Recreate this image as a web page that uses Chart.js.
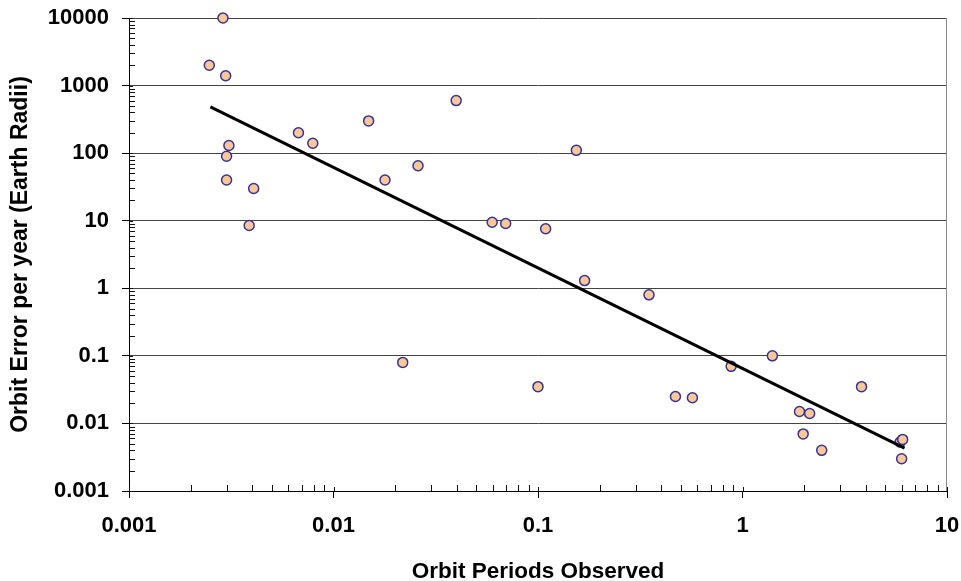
<!DOCTYPE html>
<html>
<head>
<meta charset="utf-8">
<title>Orbit error vs periods observed</title>
<script src="https://cdn.jsdelivr.net/npm/chart.js@4/dist/chart.umd.min.js"></script>
<style>
  html, body { margin: 0; padding: 0; background: #fff; }
  canvas { display: block; }
</style>
</head>
<body>
<canvas id="chart" width="961" height="581"></canvas>
<script>
// observed points
const periods = [0.00288, 0.00247, 0.00297, 0.00308, 0.0030, 0.0030, 0.00407, 0.00387,
  0.00674, 0.00792, 0.01485, 0.01786, 0.0259, 0.0398, 0.154, 0.0597, 0.0695, 0.109,
  0.169, 0.349, 0.0218, 0.100, 1.40, 0.88, 0.47, 0.569, 3.82, 1.90, 2.13, 1.98, 2.44,
  5.9, 6.07, 6.0];
const errors = [10000, 2000, 1400, 130, 90, 40, 30, 8.5,
  200, 140, 300, 40, 65, 600, 110, 9.5, 9.1, 7.6,
  1.3, 0.8, 0.08, 0.035, 0.1, 0.07, 0.025, 0.024, 0.035, 0.015, 0.014, 0.007, 0.004,
  0.0053, 0.0058, 0.003];

// power trendline ends
const trendX = [0.0025, 6.2];
const trendY = [485, 0.0043];

const xTicks = [0.001, 0.01, 0.1, 1, 10];
const yTicks = [0.001, 0.01, 0.1, 1, 10, 100, 1000, 10000];

const font = { family: '"Liberation Sans", Arial, sans-serif', size: 22, weight: 'bold' };

const pts = periods.map((p, i) => ({ x: p, y: errors[i] }));
const trend = trendX.map((x, i) => ({ x: x, y: trendY[i] }));

// minor ticks inside the axes + right frame line
const minorTicks = {
  id: 'minorTicks',
  afterDraw(chart) {
    const { ctx, chartArea: a, scales: { x, y } } = chart;
    ctx.save();
    ctx.lineWidth = 1;
    ctx.strokeStyle = '#8a8a8a';
    ctx.beginPath();
    ctx.moveTo(Math.round(a.right) - 0.5, a.top);
    ctx.lineTo(Math.round(a.right) - 0.5, a.bottom);
    ctx.stroke();

    ctx.strokeStyle = '#111';
    ctx.beginPath();
    for (let d = 0; d < yTicks.length; d++) {
      const base = yTicks[d];
      for (let k = 1; k <= 9; k++) {
        const v = base * k;
        if (v > y.max * 1.0001) break;
        const py = Math.round(y.getPixelForValue(v)) + 0.5;
        const len = k === 1 ? 4 : 6;
        ctx.moveTo(a.left, py);
        ctx.lineTo(a.left + len, py);
      }
    }
    for (let d = 0; d < xTicks.length; d++) {
      const base = xTicks[d];
      for (let k = 1; k <= 9; k++) {
        const v = base * k;
        if (v > x.max * 1.0001) break;
        const px = Math.round(x.getPixelForValue(v)) + 0.5;
        const len = k === 1 ? 4 : 6;
        ctx.moveTo(px, a.bottom);
        ctx.lineTo(px, a.bottom - len);
      }
    }
    ctx.stroke();
    ctx.restore();
  }
};

new Chart(document.getElementById('chart'), {
  type: 'scatter',
  data: {
    datasets: [
      {
        type: 'line',
        label: 'Trend',
        data: trend,
        borderColor: '#000',
        borderWidth: 3,
        pointRadius: 0,
        fill: false,
        order: 0
      },
      {
        label: 'Observed',
        data: pts,
        backgroundColor: '#FAC896',
        borderColor: '#333399',
        borderWidth: 1.5,
        pointRadius: 5,
        clip: false,
        order: 1
      }
    ]
  },
  options: {
    responsive: false,
    animation: false,
    devicePixelRatio: 1,
    layout: { padding: { top: 18, right: 14, left: 0, bottom: 0 } },
    plugins: { legend: { display: false }, tooltip: { enabled: false } },
    scales: {
      x: {
        type: 'logarithmic',
        min: 0.001,
        max: 10,
        afterBuildTicks: s => { s.ticks = xTicks.map(v => ({ value: v })); },
        afterFit: s => { s.height = 90; s.paddingLeft = 0; s.paddingRight = 0; },
        ticks: {
          font: font, color: '#000', padding: 15,
          autoSkip: false, maxRotation: 0,
          callback: v => String(v)
        },
        grid: { drawOnChartArea: false, drawTicks: true, tickLength: 7, tickColor: '#000' },
        border: { display: true, color: '#000', width: 1 },
        title: {
          display: true,
          text: 'Orbit Periods Observed',
          color: '#000',
          font: Object.assign({}, font, { size: 22.5, lineHeight: 0.8 }),
          padding: { top: 0, bottom: 0 }
        }
      },
      y: {
        type: 'logarithmic',
        min: 0.001,
        max: 10000,
        afterBuildTicks: s => { s.ticks = yTicks.map(v => ({ value: v })); },
        afterFit: s => { s.width = 129; s.paddingTop = 0; s.paddingBottom = 0; },
        ticks: {
          font: font, color: '#000', padding: 13,
          autoSkip: false,
          callback: v => String(v)
        },
        grid: { color: '#444', lineWidth: 1, drawTicks: true, tickLength: 7, tickColor: '#000' },
        border: { display: true, color: '#000', width: 1 },
        title: {
          display: true,
          text: 'Orbit Error per year (Earth Radii)',
          color: '#000',
          font: Object.assign({}, font, { size: 23 }),
          padding: { top: 7, bottom: 0 }
        }
      }
    }
  },
  plugins: [minorTicks]
});
</script>
</body>
</html>
